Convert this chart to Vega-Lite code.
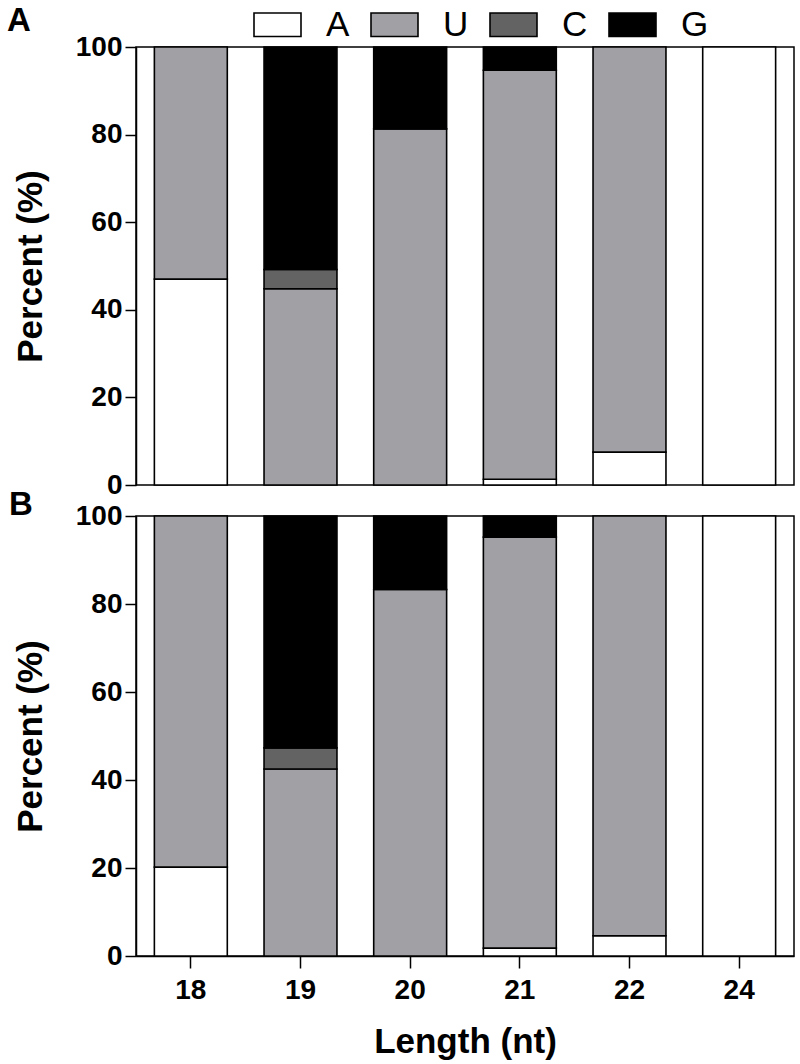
{
  "$schema": "https://vega.github.io/schema/vega-lite/v6.json",
  "background": "white",
  "padding": {"left": 6, "top": 0, "right": 6, "bottom": 5},
  "datasets": {
    "bases": [
      {"base": "A", "rank": 1},
      {"base": "U", "rank": 2},
      {"base": "C", "rank": 3},
      {"base": "G", "rank": 4}
    ],
    "panelA": [
      {"length": "18", "base": "A", "value": 47.0},
      {"length": "18", "base": "U", "value": 53.0},
      {"length": "19", "base": "U", "value": 44.8},
      {"length": "19", "base": "C", "value": 4.4},
      {"length": "19", "base": "G", "value": 50.8},
      {"length": "20", "base": "U", "value": 81.3},
      {"length": "20", "base": "G", "value": 18.7},
      {"length": "21", "base": "A", "value": 1.3},
      {"length": "21", "base": "U", "value": 93.4},
      {"length": "21", "base": "G", "value": 5.3},
      {"length": "22", "base": "A", "value": 7.5},
      {"length": "22", "base": "U", "value": 92.5},
      {"length": "24", "base": "A", "value": 100}
    ],
    "panelB": [
      {"length": "18", "base": "A", "value": 20.2},
      {"length": "18", "base": "U", "value": 79.8},
      {"length": "19", "base": "U", "value": 42.5},
      {"length": "19", "base": "C", "value": 4.8},
      {"length": "19", "base": "G", "value": 52.7},
      {"length": "20", "base": "U", "value": 83.3},
      {"length": "20", "base": "G", "value": 16.7},
      {"length": "21", "base": "A", "value": 1.8},
      {"length": "21", "base": "U", "value": 93.4},
      {"length": "21", "base": "G", "value": 4.8},
      {"length": "22", "base": "A", "value": 4.6},
      {"length": "22", "base": "U", "value": 95.4},
      {"length": "24", "base": "A", "value": 100}
    ]
  },
  "config": {
    "font": "Liberation Sans",
    "view": {"stroke": "black", "strokeWidth": 1.5},
    "axis": {
      "domainColor": "black", "domainWidth": 1.5,
      "tickColor": "black", "tickWidth": 1.5,
      "labelColor": "black", "titleColor": "black",
      "labelFont": "Liberation Sans", "titleFont": "Liberation Sans",
      "labelFontWeight": "bold", "titleFontWeight": "bold",
      "grid": false
    },
    "bar": {"stroke": "black", "strokeWidth": 1.6},
    "title": {"color": "black", "font": "Liberation Sans"}
  },
  "spacing": 31,
  "bounds": "flush",
  "resolve": {"scale": {"color": "shared", "x": "shared"}, "legend": {"color": "shared"}},
  "vconcat": [
    {
      "width": 658,
      "height": 438,
      "title": {"text": "A", "anchor": "start", "frame": "group", "dx": -129, "offset": -31, "baseline": "alphabetic", "fontSize": 33, "fontWeight": "bold"},
      "data": {"name": "panelA"},
      "transform": [
        {"lookup": "base", "from": {"data": {"name": "bases"}, "key": "base", "fields": ["rank"]}}
      ],
      "mark": {"type": "bar"},
      "encoding": {
        "x": {"field": "length", "type": "ordinal", "scale": {"paddingInner": 0.335, "paddingOuter": 0.1675}, "axis": null},
        "y": {"field": "value", "type": "quantitative", "stack": "zero",
              "scale": {"domain": [0, 100], "nice": false},
              "axis": {"values": [0, 20, 40, 60, 80, 100], "title": "Percent (%)", "titleFontSize": 35, "labelFontSize": 28, "tickSize": 11, "labelPadding": 3, "titlePadding": 27}},
        "order": {"field": "rank", "type": "quantitative", "sort": "ascending"},
        "color": {"field": "base", "type": "nominal",
                  "scale": {"domain": ["A", "U", "C", "G"], "range": ["#ffffff", "#a1a0a5", "#636363", "#000000"]},
                  "legend": {"title": null, "orient": "none", "legendX": 117, "legendY": -47, "direction": "horizontal", "columns": 4,
                             "symbolType": "M-1,-0.5H1V0.5H-1Z", "symbolSize": 2209, "symbolStrokeColor": "black", "symbolStrokeWidth": 1.5, "symbolOpacity": 1,
                             "labelFontSize": 35, "labelFont": "Liberation Sans", "labelColor": "black", "labelOffset": 24, "columnPadding": 17}}
      }
    },
    {
      "width": 658,
      "height": 440,
      "title": {"text": "B", "anchor": "start", "frame": "group", "dx": -127, "offset": -46, "baseline": "alphabetic", "fontSize": 33, "fontWeight": "bold"},
      "data": {"name": "panelB"},
      "transform": [
        {"lookup": "base", "from": {"data": {"name": "bases"}, "key": "base", "fields": ["rank"]}}
      ],
      "mark": {"type": "bar"},
      "encoding": {
        "x": {"field": "length", "type": "ordinal", "scale": {"paddingInner": 0.335, "paddingOuter": 0.1675},
              "axis": {"title": "Length (nt)", "titleFontSize": 35, "labelFontSize": 28, "labelAngle": 0, "tickSize": 12, "labelPadding": 8, "titlePadding": 20}},
        "y": {"field": "value", "type": "quantitative", "stack": "zero",
              "scale": {"domain": [0, 100], "nice": false},
              "axis": {"values": [0, 20, 40, 60, 80, 100], "title": "Percent (%)", "titleFontSize": 35, "labelFontSize": 28, "tickSize": 11, "labelPadding": 3, "titlePadding": 27}},
        "order": {"field": "rank", "type": "quantitative", "sort": "ascending"},
        "color": {"field": "base", "type": "nominal"}
      }
    }
  ]
}
